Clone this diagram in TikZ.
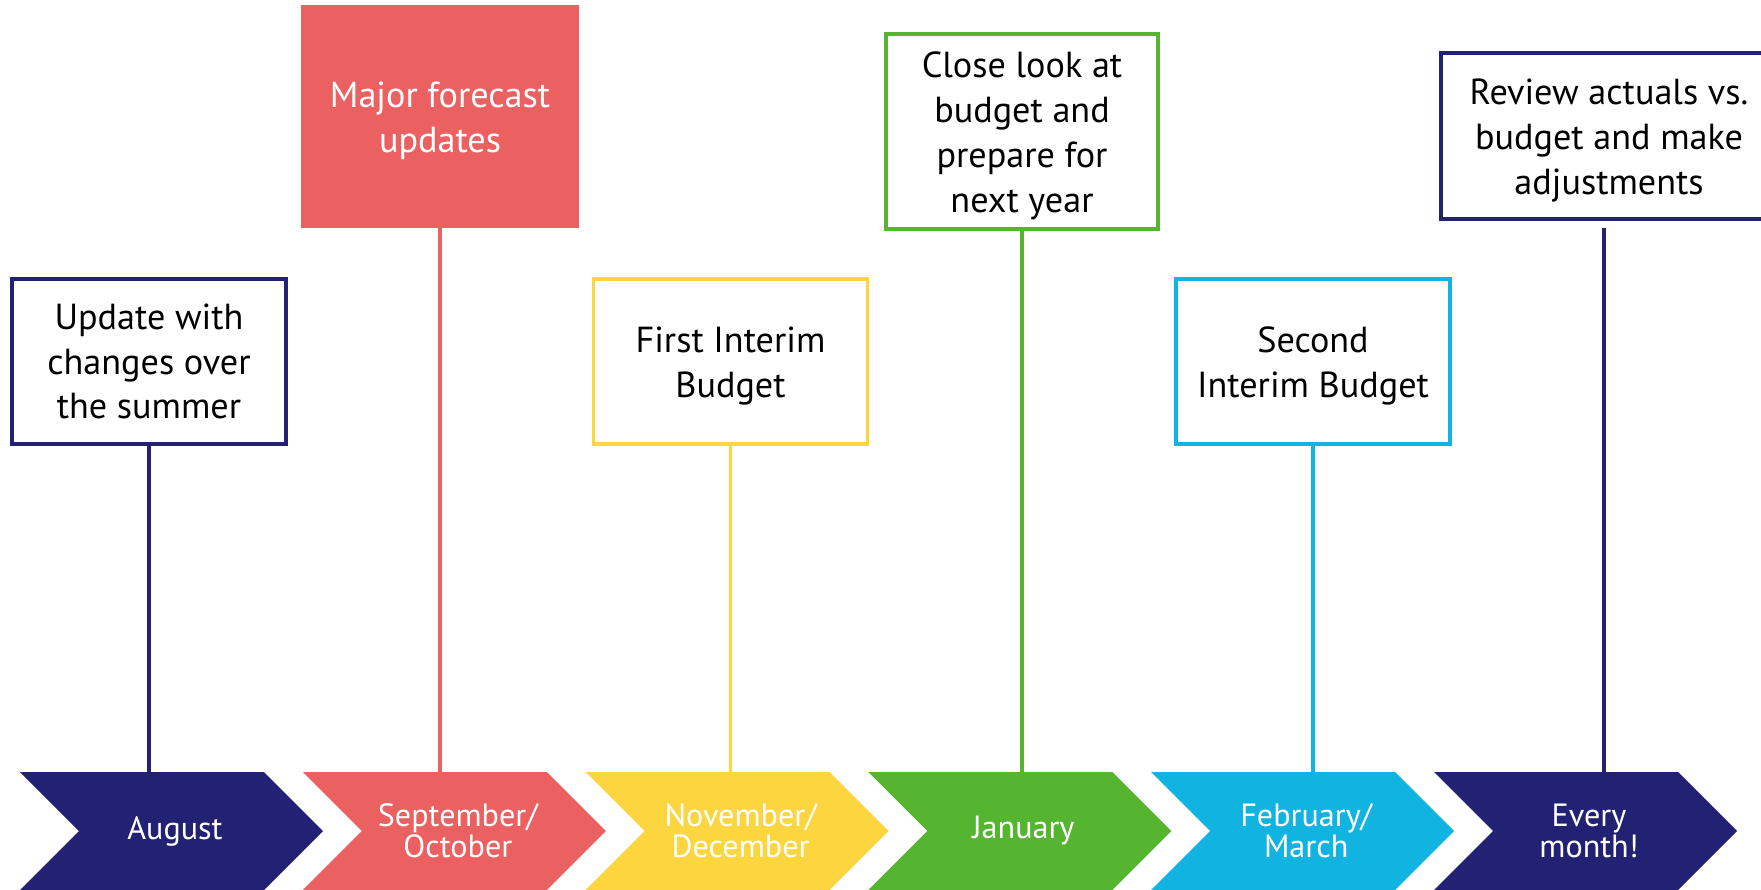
\documentclass[tikz,border=0pt]{standalone}
\usepackage{fontspec}
\setmainfont{PT Sans}
\definecolor{navy}{RGB}{35,33,115}
\definecolor{salmon}{RGB}{235,96,96}
\definecolor{sun}{RGB}{253,213,62}
\definecolor{leaf}{RGB}{85,181,49}
\definecolor{sky}{RGB}{17,179,224}
\newcommand\lift{\rule{0pt}{19.5pt}}
\tikzset{
	note/.style={draw, line width=2.1pt, align=center, inner sep=0pt, minimum width=5.48cm, minimum height=3.3cm, font=\fontsize{20.6}{25.5}\selectfont},
	month/.style={align=center, text=white, font=\fontsize{18.3}{17.5}\selectfont},
	stem/.style={line width=2pt},
}
\begin{document}
\begin{tikzpicture}[x=0.02cm, y=-0.02cm]
			\useasboundingbox (0,0) rectangle (1761,889);

			% month chevrons
			\foreach \k/\c/\t in {0/navy/August, 1/salmon/{September/\\October}, 2/sun/{November/\\December}, 3/leaf/January, 4/sky/{February/\\March}, 5/navy/{Every\\month!}}{
				\pgfmathsetmacro\xa{20+282.8*\k}
				\fill[\c] (\xa,772) -- ({\xa+244},772) -- ({\xa+303},831) -- ({\xa+244},890) -- (\xa,890) -- ({\xa+59},831) -- cycle;
				\coordinate (t\k) at (\xa,772);
				\node[month] (m\k) at ({\xa+155},831) {\t};
			}

			% boxes
			\node[note, draw=navy] (b0) at (149,361.5) {Update with\\changes over\\the summer};
			\node[note, draw=salmon, fill=salmon, text=white, minimum height=4.38cm] (b1) at (440,116.5) {\lift Major forecast\\updates};
			\node[note, draw=sun] (b2) at (730.5,361.5) {\lift First Interim\\Budget};
			\node[note, draw=leaf, minimum width=5.44cm, minimum height=3.9cm] (b3) at (1022,131.5) {\lift Close look at\\budget and\\prepare for\\next year};
			\node[note, draw=sky] (b4) at (1313,361.5) {\lift Second\\Interim Budget};
			\node[note, draw=navy, minimum width=6.72cm, minimum height=3.32cm] (b5) at (1609,136) {\lift Review actuals vs.\\budget and make\\adjustments};

			% stems
			\draw[stem, navy] (b0.south) -- (b0.south |- t0);
			\draw[stem, salmon] (b1.south) -- (b1.south |- t1);
			\draw[stem, sun] (b2.south) -- (b2.south |- t2);
			\draw[stem, leaf] (b3.south) -- (b3.south |- t3);
			\draw[stem, sky] (b4.south) -- (b4.south |- t4);
			\draw[stem, navy] ([xshift=-0.1cm, yshift=-0.14cm]b5.south) -- ([xshift=-0.1cm]b5.south |- t5);
\end{tikzpicture}
\end{document}
